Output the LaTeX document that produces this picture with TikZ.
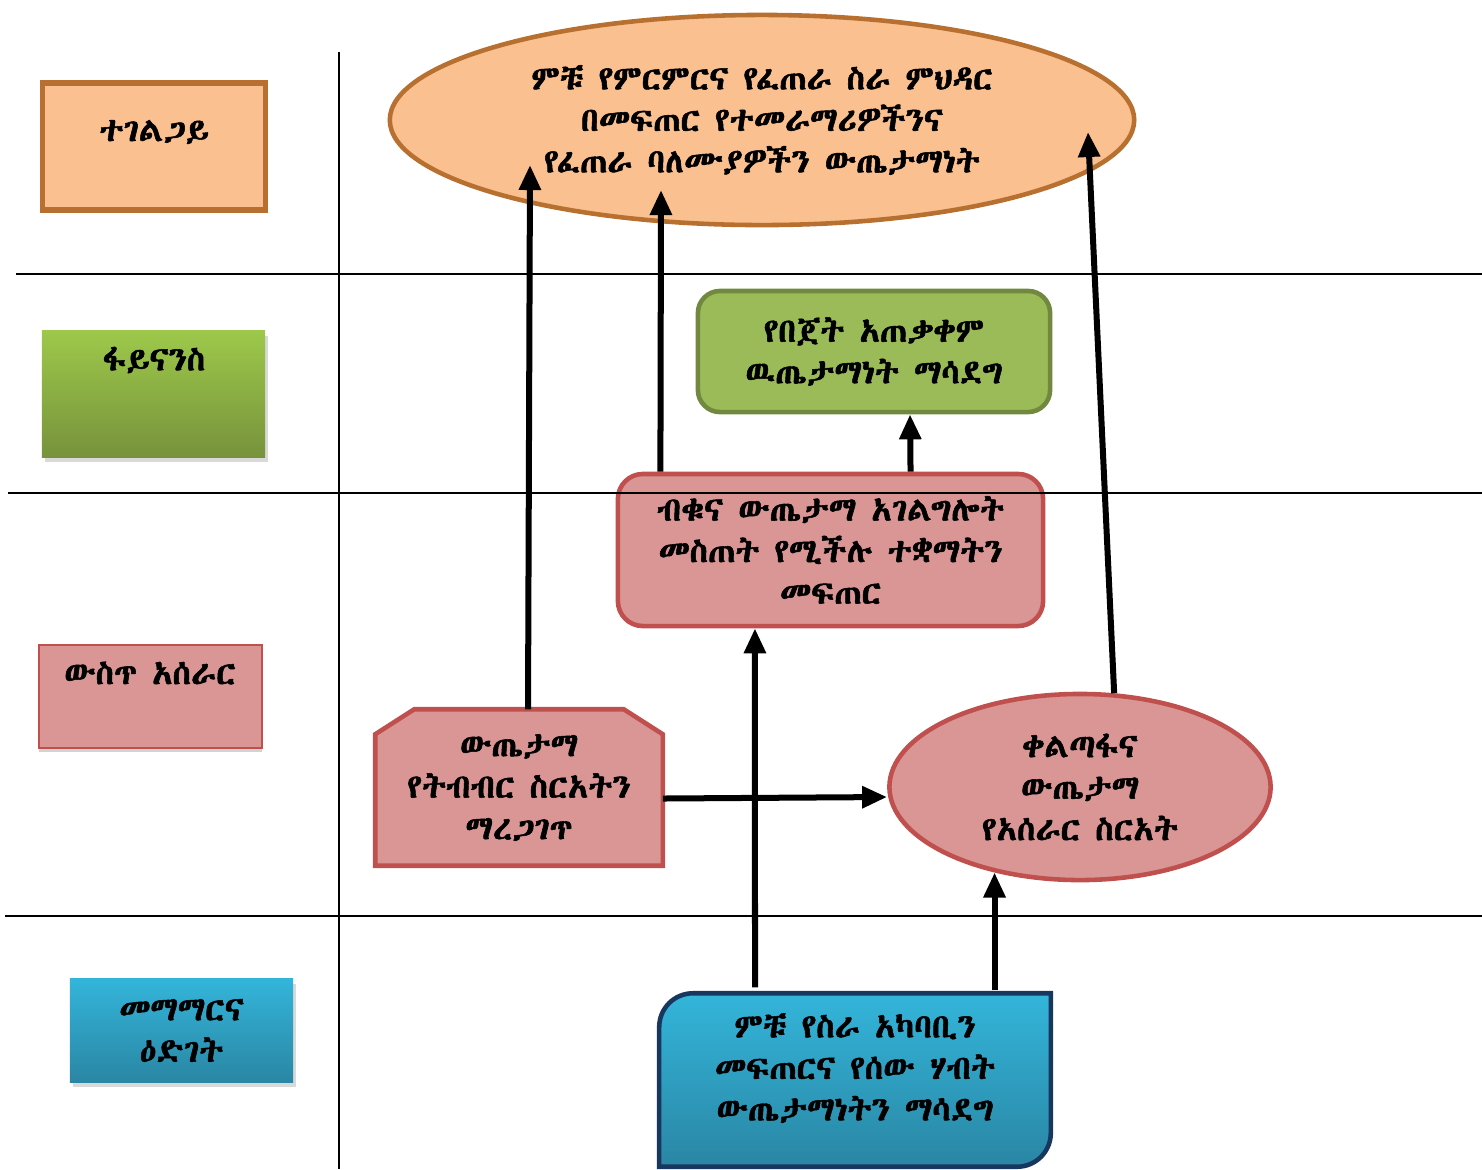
\documentclass[tikz,border=0pt]{standalone}
\usepackage{fontspec}
\IfFontExistsTF{Abyssinica SIL}
  {\newfontfamily\ethfont[FakeBold=1.6]{Abyssinica SIL}}
  {\newfontfamily\ethfont{DejaVu Sans}}
\usepackage{tikz}
\usetikzlibrary{shapes.geometric,arrows.meta,positioning,calc,shadows,backgrounds}
\definecolor{peach}{HTML}{FAC090}
\definecolor{peachline}{HTML}{B7702F}
\definecolor{leafgreen}{HTML}{9BBB59}
\definecolor{leafline}{HTML}{71893F}
\definecolor{rosefill}{HTML}{D99694}
\definecolor{roseline}{HTML}{C0504D}
\definecolor{seatop}{HTML}{33B5DA}
\definecolor{seabot}{HTML}{2A86A4}
\definecolor{navyline}{HTML}{17375E}
\definecolor{grasstop}{HTML}{9DC84A}
\definecolor{grassbot}{HTML}{77933C}
\begin{document}
\begin{tikzpicture}[
  x=0.01cm, y=-0.01cm,
  font=\ethfont\fontsize{9.5}{11.8}\selectfont,
  rule/.style={line width=0.6pt, black},
  arr/.style={-{Triangle[length=0.25cm,width=0.21cm]}, line width=0.06cm, black},
  leg/.style={rectangle, inner sep=0pt, minimum width=2.23cm, align=center},
  goalshape/.style={ellipse, draw=peachline, line width=1.3pt, fill=peach, inner sep=0pt, align=center},
  greenbox/.style={rectangle, rounded corners=0.22cm, draw=leafline, line width=1.3pt, fill=leafgreen, inner sep=0pt, align=center},
  rosebox/.style={rectangle, rounded corners=0.25cm, draw=roseline, line width=1.3pt, fill=rosefill, inner sep=0pt, align=center},
  roseell/.style={ellipse, draw=roseline, line width=1.3pt, fill=rosefill, inner sep=0pt, align=center},
  plainbox/.style={rectangle, inner sep=0pt, align=center}
]
\useasboundingbox (0,0) rectangle (1482,1169);

% legend
\node[leg, minimum height=1.27cm, draw=peachline, line width=1.5pt, fill=peach] (client) at (154,146.5) {};
\node (clienttxt) at (154,132) {ተገልጋይ};
\node[leg, minimum height=1.26cm, top color=grasstop, bottom color=grassbot,
      drop shadow={shadow xshift=0.03cm, shadow yshift=-0.05cm, opacity=0.3}] (finance) at (153.5,394) {};
\node (financetxt) at (154,360) {ፋይናንስ};
\node[leg, minimum height=1.03cm, draw=roseline, line width=0.8pt, fill=rosefill,
      drop shadow={shadow xshift=0cm, shadow yshift=-0.04cm, opacity=0.35, fill=gray}] (internal) at (150.5,696.5) {};
\node (internaltxt) at (150,673) {ውስጥ አሰራር};
\node[leg, minimum height=1.03cm, top color=seatop, bottom color=seabot,
      drop shadow={shadow xshift=0.03cm, shadow yshift=-0.05cm, opacity=0.3}] (learning) at (181.5,1030.5) {መማማርና\\ዕድገት};

% objectives
\node[goalshape, minimum width=7.44cm, minimum height=2.1cm] (goal) at (762,120)
  {ምቹ የምርምርና የፈጠራ ስራ ምህዳር\\በመፍጠር የተመራማሪዎችንና\\የፈጠራ ባለሙያዎችን ውጤታማነት};
\node[greenbox, minimum width=3.52cm, minimum height=1.21cm] (budget) at (874,351.5)
  {የበጀት አጠቃቀም\\ዉጤታማነት ማሳደግ};
\node[rosebox, minimum width=4.25cm, minimum height=1.52cm] (inst) at (830.5,550)
  {ብቁና ውጤታማ አገልግሎት\\መስጠት የሚችሉ ተቋማትን\\መፍጠር};
\node[plainbox, minimum width=2.86cm, minimum height=1.55cm] (coop) at (519,787.5)
  {ውጤታማ\\የትብብር ስርአትን\\ማረጋገጥ};
\node[roseell, minimum width=3.81cm, minimum height=1.86cm] (agile) at (1080,787)
  {ቀልጣፋና\\ውጤታማ\\የአሰራር ስርአት};
\node[plainbox, minimum width=3.9cm, minimum height=1.72cm] (work) at (855,1080) {};
\node[align=center] (worktxt) at (855,1068) {ምቹ የስራ አካባቢን\\መፍጠርና የሰው ሃብት\\ውጤታማነትን ማሳደግ};

\begin{pgfonlayer}{background}
\path[draw=roseline, line width=1.3pt, fill=rosefill]
  (coop.south west) -- ($(coop.north west)+(0,25)$) -- ($(coop.north west)+(39,0)$)
  -- ($(coop.north east)+(-39,0)$) -- ($(coop.north east)+(0,25)$) -- (coop.south east) -- cycle;
\path[draw=navyline, line width=1.3pt, top color=seatop, bottom color=seabot]
  (work.south west) -- ($(work.north west)+(0,34)$)
  .. controls ($(work.north west)+(0,15)$) and ($(work.north west)+(15,0)$) .. ($(work.north west)+(34,0)$)
  -- (work.north east) -- ($(work.south east)+(0,-34)$)
  .. controls ($(work.south east)+(0,-15)$) and ($(work.south east)+(-15,0)$) .. ($(work.south east)+(-34,0)$)
  -- cycle;
\end{pgfonlayer}

% lanes
\draw[rule] (339,52) -- (339,1169);
\draw[rule] (16,274) -- (1482,274);
\draw[rule] (8,493) -- (1482,493);
\draw[rule] (5,916) -- (1482,916);

% links
\draw[arr] ([xshift=0.09cm]coop.north) -- ([shift={(-232,45)}]goal.center);
\draw[arr] ([xshift=-1.7cm]inst.north) -- ([shift={(-101,70)}]goal.center);
\draw[arr] ([xshift=0.8cm]inst.north) -- ([xshift=0.36cm]budget.south);
\draw[arr] ([shift={(-100,-6)}]work.north) -- ([xshift=-1cm]work.north |- inst.south);
\draw[arr] ([yshift=0.03cm]agile.225 |- work.north) -- (agile.225);
\draw[arr] ([yshift=-0.11cm]coop.east) -- ([yshift=-0.1cm]agile.west);
\draw[arr] (agile.70) -- ([shift={(326,12)}]goal.center);
\end{tikzpicture}
\end{document}
